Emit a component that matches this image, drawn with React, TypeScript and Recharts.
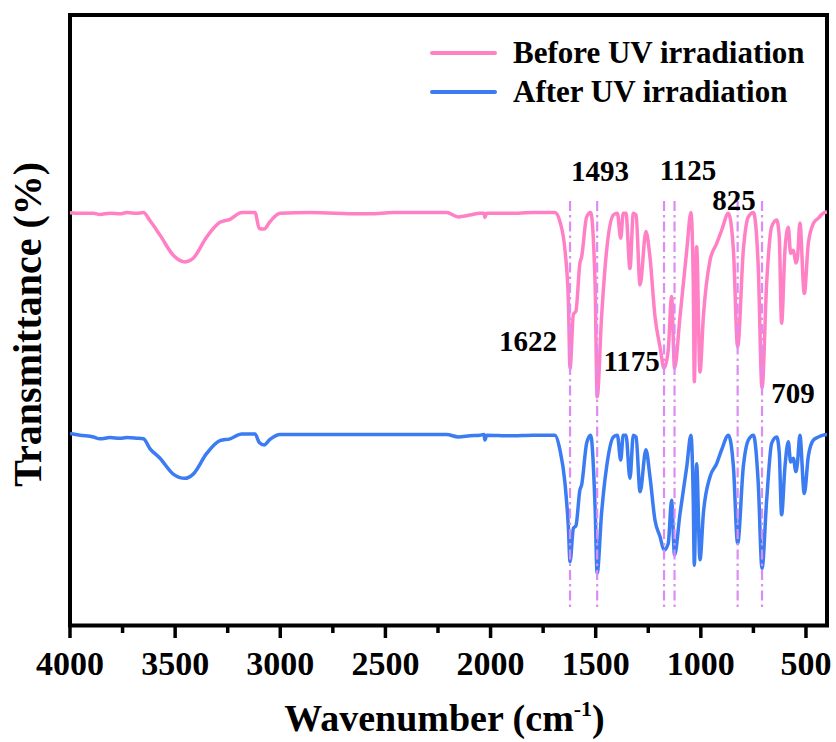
import {
  LineChart,
  Line,
  XAxis,
  YAxis,
  Label,
  Legend,
  ReferenceArea,
  ReferenceLine,
  ReferenceDot,
} from "recharts";

// Wavenumber grid (cm-1), descending, shared by both spectra.
const wavenumbers = [
  4000, 3952, 3889, 3857, 3810, 3762, 3730, 3683, 3651, 3620, 3572, 3509,
  3453, 3414, 3350, 3287, 3239, 3183, 3120, 3100, 3077, 3049, 3001, 2859,
  2621, 2573, 2462, 2209, 2153, 2098, 2050, 2031, 2027, 2018, 1908, 1797,
  1694, 1670, 1646, 1630, 1622, 1606, 1594, 1575, 1567, 1543, 1524, 1503,
  1493, 1472, 1448, 1416, 1397, 1381, 1369, 1356, 1337, 1321, 1308, 1289,
  1261, 1242, 1218, 1194, 1175, 1155, 1139, 1125, 1099, 1067, 1047, 1036,
  1031, 1020, 1004, 988, 956, 925, 901, 869, 845, 825, 798, 774, 750, 727,
  709, 687, 663, 639, 627, 616, 600, 584, 573, 560, 548, 540, 529, 508, 489,
  465, 441, 418, 400,
];

// Transmittance (arbitrary, offset) before UV irradiation
const beforeUV = [
  67.5, 67.4, 67.4, 67.2, 67.4, 67.3, 67.5, 67.4, 67.5, 66.2, 63.8, 60.5,
  59.4, 60.0, 63.5, 65.9, 66.4, 67.5, 67.5, 64.9, 64.8, 66.0, 67.4, 67.5,
  67.3, 67.3, 67.5, 67.5, 66.8, 67.1, 67.4, 67.4, 66.7, 67.4, 67.4, 67.5,
  67.5, 66.0, 61.3, 53.1, 41.9, 50.8, 51.3, 59.2, 60.2, 66.8, 67.5, 55.9,
  37.2, 50.4, 61.3, 67.1, 67.4, 63.3, 67.4, 67.4, 58.3, 67.4, 67.1, 55.6,
  64.4, 60.2, 50.4, 45.4, 41.9, 44.9, 53.7, 41.9, 50.4, 61.3, 67.5, 55.9,
  39.7, 61.9, 41.3, 50.4, 59.7, 62.4, 64.6, 67.4, 61.3, 45.4, 61.3, 66.8,
  67.5, 58.6, 38.6, 55.9, 65.2, 66.3, 63.5, 49.3, 61.3, 65.1, 60.8, 61.3,
  59.2, 60.2, 65.8, 54.2, 62.4, 65.7, 66.6, 67.4, 67.6,
];

// Transmittance (arbitrary, offset) after UV irradiation
const afterUV = [
  31.2, 30.9, 30.6, 30.3, 30.5, 30.4, 30.5, 30.4, 30.3, 28.7, 27.1, 24.5,
  23.8, 24.5, 27.9, 30.0, 30.3, 31.1, 31.1, 29.7, 29.3, 30.2, 31.0, 31.0,
  31.0, 31.0, 31.0, 31.0, 30.6, 30.8, 30.9, 31.0, 30.1, 30.9, 30.8, 30.9,
  30.9, 28.5, 23.0, 15.8, 10.1, 15.6, 16.0, 21.9, 22.7, 29.6, 30.9, 19.1,
  8.2, 18.1, 25.7, 30.6, 30.9, 26.8, 30.9, 30.9, 23.8, 30.9, 30.6, 21.6,
  28.5, 24.1, 16.9, 14.2, 12.0, 13.1, 20.2, 11.2, 18.0, 25.7, 30.9, 20.2,
  9.5, 26.2, 10.4, 18.0, 24.1, 26.2, 28.5, 30.9, 25.7, 13.1, 25.7, 30.1,
  30.9, 23.0, 9.0, 20.2, 29.6, 30.6, 28.0, 17.8, 25.7, 29.8, 26.5, 27.1,
  24.9, 26.5, 30.9, 21.3, 27.4, 30.1, 30.6, 30.9, 31.0,
];

// Marked bands and where their numbers sit (data units)
const peakWavenumbers = [1622, 1493, 1175, 1125, 825, 709];
const peakLabelWn = [1822, 1480, 1329, 1061, 842, 562];
const peakLabelT = [46.4, 74.4, 43.0, 74.5, 69.5, 37.8];
const peakLineTop = 69.4;
const peakLineBottom = 2.0;

const xTicks = [
  4000, 3750, 3500, 3250, 3000, 2750, 2500, 2250, 2000, 1750, 1500, 1250,
  1000, 750, 500,
];

const seriesOrder = ["Before UV irradiation", "After UV irradiation"];

const SERIF =
  "'Liberation Serif', 'Nimbus Roman', 'Nimbus Roman No9 L', Tinos, 'DejaVu Serif', serif";
const PINK = "#ff80c4";
const BLUE = "#3b7cf2";
const PEAK_LINE = "#dd8cf5";

const rows = wavenumbers.map((wn, i) => ({
  wn,
  before: beforeUV[i],
  after: afterUV[i],
}));

function WnTick(props: any) {
  const { x, y, payload } = props;
  const major = payload.value % 500 === 0;
  return (
    <g>
      <line
        x1={x}
        x2={x}
        y1={y}
        y2={y + (major ? 12.5 : 7.5)}
        stroke="#000"
        strokeWidth={3.5}
      />
      {major && (
        <text
          x={x}
          y={y + 49.5}
          textAnchor="middle"
          style={{ fontFamily: SERIF, fontWeight: 700, fontSize: 34 }}
          fill="#000"
        >
          {payload.value}
        </text>
      )}
    </g>
  );
}

function XTitle(props: any) {
  const { x, width } = props.viewBox;
  return (
    <text
      x={x + width / 2 - 4}
      y={731}
      textAnchor="middle"
      style={{ fontFamily: SERIF, fontWeight: 700, fontSize: 38 }}
      fill="#000"
    >
      Wavenumber (cm
      <tspan dy={-15} style={{ fontSize: 22 }}>
        -1
      </tspan>
      <tspan dy={15}>)</tspan>
    </text>
  );
}

function YTitle(props: any) {
  const { y, height } = props.viewBox;
  const cx = 41;
  const cy = y + height / 2 + 4;
  return (
    <text
      x={cx}
      y={cy}
      transform={`rotate(-90, ${cx}, ${cy})`}
      textAnchor="middle"
      style={{ fontFamily: SERIF, fontWeight: 700, fontSize: 40 }}
      fill="#000"
    >
      Transmittance (%)
    </text>
  );
}

function LegendBox(props: any) {
  const items = [...(props.payload ?? [])].sort(
    (a: any, b: any) => seriesOrder.indexOf(a.value) - seriesOrder.indexOf(b.value)
  );
  return (
    <div>
      {items.map((entry: any) => (
        <div
          key={entry.value}
          style={{ display: "flex", alignItems: "center", height: 39 }}
        >
          <span
            style={{
              display: "inline-block",
              width: 67,
              height: 4,
              borderRadius: 2,
              background: entry.color,
            }}
          />
          <span
            style={{
              marginLeft: 16,
              fontFamily: SERIF,
              fontWeight: 700,
              fontSize: 31,
              lineHeight: "39px",
              color: "#000",
              whiteSpace: "nowrap",
            }}
          >
            {entry.value}
          </span>
        </div>
      ))}
    </div>
  );
}

export default function App() {
  return (
    <div
      style={{
        position: "absolute",
        left: 0,
        top: 0,
        width: 836,
        height: 742,
        background: "#fff",
      }}
    >
      <LineChart
        width={836}
        height={742}
        data={rows}
        margin={{ top: 15, right: 9, bottom: 26.5, left: 10 }}
      >
        <XAxis
          dataKey="wn"
          type="number"
          domain={[400, 4000]}
          reversed
          allowDataOverflow
          ticks={xTicks}
          interval={0}
          axisLine={false}
          tickLine={false}
          tickSize={0}
          tickMargin={0}
          height={90}
          tick={(p: any) => <WnTick {...p} />}
        >
          <Label content={XTitle} />
        </XAxis>
        <YAxis
          type="number"
          domain={[-0.4, 100]}
          allowDataOverflow
          width={60}
          tick={false}
          axisLine={false}
          tickLine={false}
        >
          <Label content={YTitle} />
        </YAxis>
        <Legend
          layout="vertical"
          align="center"
          verticalAlign="middle"
          wrapperStyle={{ top: 33, left: 430, width: 400 }}
          content={LegendBox}
        />
        <Line
          type="monotone"
          dataKey="before"
          name="Before UV irradiation"
          stroke={PINK}
          strokeWidth={3.5}
          dot={false}
          isAnimationActive={false}
        />
        <Line
          type="monotone"
          dataKey="after"
          name="After UV irradiation"
          stroke={BLUE}
          strokeWidth={3.5}
          dot={false}
          isAnimationActive={false}
        />
        {peakWavenumbers.map((wn) => (
          <ReferenceLine
            key={`pl-${wn}`}
            segment={[
              { x: wn, y: peakLineTop },
              { x: wn, y: peakLineBottom },
            ]}
            stroke={PEAK_LINE}
            strokeWidth={2.2}
            strokeDasharray="10 4 2.5 4"
          />
        ))}
        <ReferenceArea
          x1={4000}
          x2={400}
          y1={-0.4}
          y2={100}
          fill="none"
          fillOpacity={0}
          stroke="#000"
          strokeWidth={4}
          ifOverflow="visible"
        />
        {peakWavenumbers.map((wn, i) => (
          <ReferenceDot
            key={`lab-${wn}`}
            x={peakLabelWn[i]}
            y={peakLabelT[i]}
            r={0}
            ifOverflow="visible"
            shape={(p: any) => (
              <text
                x={p.cx}
                y={p.cy}
                dy="0.34em"
                textAnchor="middle"
                style={{ fontFamily: SERIF, fontWeight: 700, fontSize: 29 }}
                fill="#000"
              >
                {String(wn)}
              </text>
            )}
          />
        ))}
      </LineChart>
    </div>
  );
}
